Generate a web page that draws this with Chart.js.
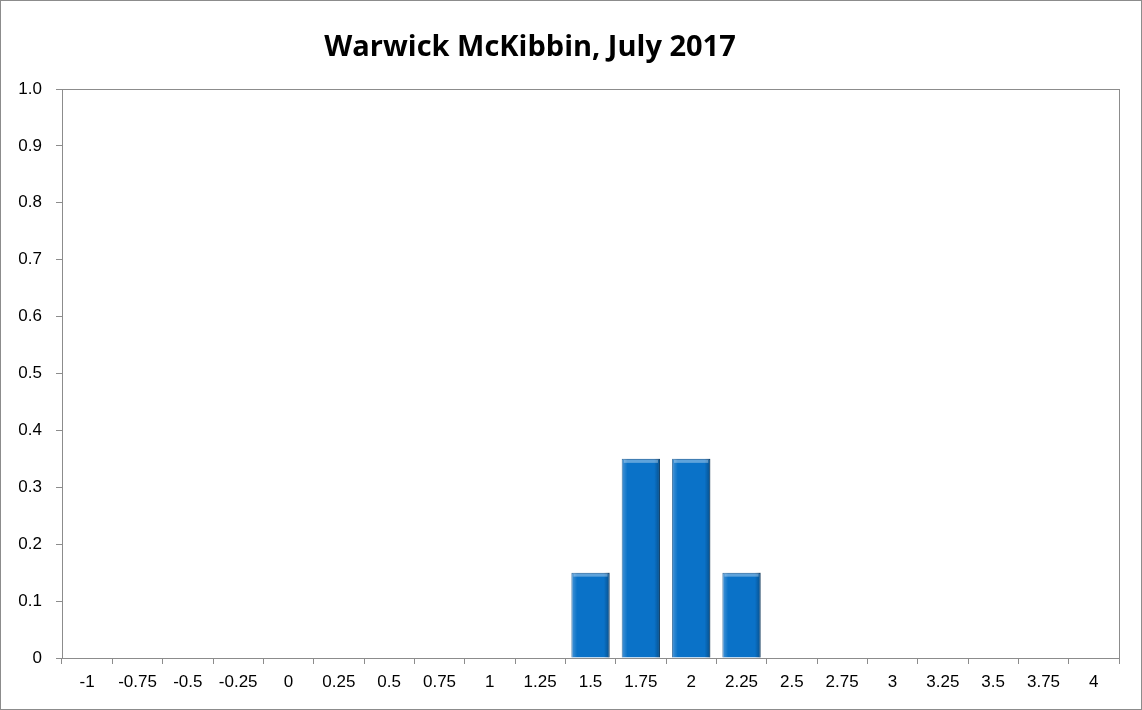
<!DOCTYPE html>
<html>
<head>
<meta charset="utf-8">
<script src="https://cdn.jsdelivr.net/npm/chart.js@4/dist/chart.umd.min.js"></script>
<style>
  body { margin: 0; background: #fff; }
  #wrap { width: 1142px; height: 710px; position: relative; box-sizing: border-box; border: 1px solid #8c8c8c; }
  canvas { position: absolute; left: 0; top: 0; }
</style>
</head>
<body>
<div id="wrap"><canvas id="chart" width="1142" height="710"></canvas></div>
<script>
"use strict";

const titleText = "Warwick McKibbin, July 2017";
const categories = ["-1", "-0.75", "-0.5", "-0.25", "0", "0.25", "0.5", "0.75", "1", "1.25",
  "1.5", "1.75", "2", "2.25", "2.5", "2.75", "3", "3.25", "3.5", "3.75", "4"];
const probabilities = [0, 0, 0, 0, 0, 0, 0, 0, 0, 0, 0.15, 0.35, 0.35, 0.15, 0, 0, 0, 0, 0, 0, 0];

//title drawn left of centre like the original
const titlePlugin = {
  id: "titleText",
  afterDraw(chart) {
    const ctx = chart.ctx;
    ctx.save();
    ctx.font = "bold 29px 'Open Sans', sans-serif";
    ctx.fillStyle = "#000";
    ctx.textAlign = "center";
    ctx.textBaseline = "middle";
    ctx.fillText(titleText, 529, 47);
    ctx.restore();
  },
};

//plot border + bevel shading on bars
const framePlugin = {
  id: "frame",
  beforeDatasetsDraw(chart) {
    const { ctx, chartArea: a } = chart;
    ctx.save();
    ctx.strokeStyle = "#8c8c8c";
    ctx.lineWidth = 1;
    ctx.strokeRect(a.left + 0.5, a.top + 0.5, a.right - a.left, a.bottom - a.top);
    ctx.restore();
  },
  afterDatasetsDraw(chart) {
    const ctx = chart.ctx;
    chart.getDatasetMeta(0).data.forEach((bar) => {
      const h = bar.base - bar.y;
      if (h <= 0) return;
      const left = bar.x - bar.width / 2;
      const g = ctx.createLinearGradient(left, 0, left + bar.width, 0);
      g.addColorStop(0, "rgba(255,255,255,0.25)");
      g.addColorStop(0.15, "rgba(255,255,255,0)");
      g.addColorStop(0.85, "rgba(0,0,0,0)");
      g.addColorStop(1, "rgba(0,0,0,0.3)");
      ctx.save();
      ctx.fillStyle = g;
      ctx.fillRect(left, bar.y, bar.width, h);
      ctx.fillStyle = "rgba(255,255,255,0.35)";
      ctx.fillRect(left + 2, bar.y + 1, bar.width - 4, 3);
      ctx.restore();
    });
  },
};

new Chart(document.getElementById("chart"), {
  type: "bar",
  data: {
    labels: categories,
    datasets: [{
      data: probabilities,
      backgroundColor: "#0a72c8",
      borderColor: "#0b4f8a",
      borderWidth: 1,
      barPercentage: 0.76,
      categoryPercentage: 1,
    }],
  },
  options: {
    responsive: false,
    animation: false,
    layout: { padding: { top: 88, right: 24, left: 0, bottom: 0 } },
    plugins: { legend: { display: false }, tooltip: { enabled: false } },
    scales: {
      x: {
        grid: { display: true, drawOnChartArea: false, offset: true, tickLength: 6, color: "#8c8c8c" },
        border: { color: "#8c8c8c" },
        ticks: { color: "#000", font: { family: "'Liberation Sans', Arial", size: 17 }, maxRotation: 0, autoSkip: false, padding: 8 },
        afterFit: (s) => { s.height = 53; },
      },
      y: {
        min: 0,
        max: 1,
        grid: { display: true, drawOnChartArea: false, tickLength: 6, color: "#8c8c8c" },
        border: { color: "#8c8c8c" },
        ticks: { stepSize: 0.1, color: "#000", font: { family: "'Liberation Sans', Arial", size: 17 }, padding: 14 },
        afterFit: (s) => { s.width = 61; },
      },
    },
  },
  plugins: [titlePlugin, framePlugin],
});
</script>
</body>
</html>
